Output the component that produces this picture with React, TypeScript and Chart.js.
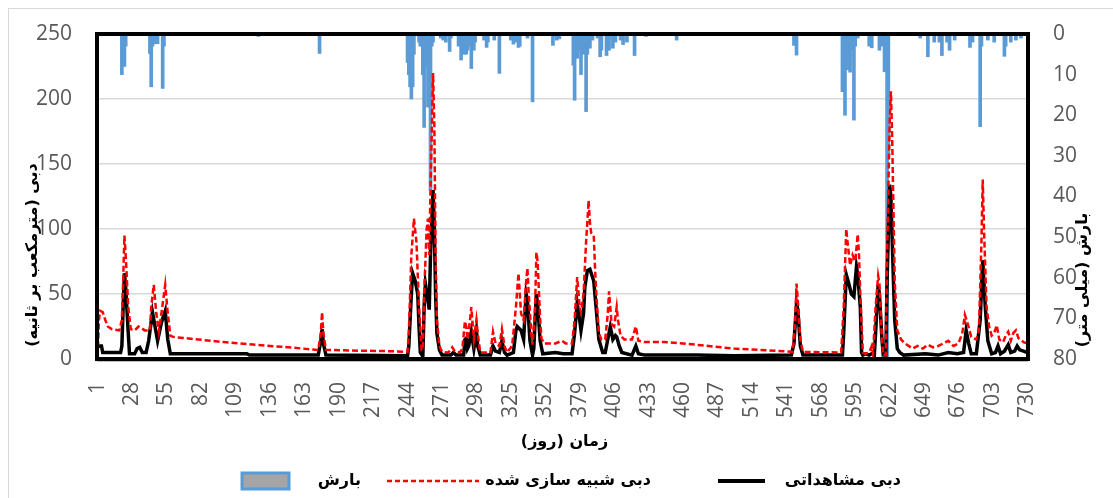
import React, { useEffect, useRef } from 'react';
import { Chart, registerables } from 'chart.js';
Chart.register(...registerables);

// ---- data ----
const xTickValues = [1, 28, 55, 82, 109, 136, 163, 190, 217, 244, 271, 298, 325, 352, 379, 406, 433, 460, 487, 514, 541, 568, 595, 622, 649, 676, 703, 730];

const obsDays = [1, 2, 4, 5, 19, 20, 21, 22, 23, 25, 26, 30, 32, 34, 36, 39, 41, 44, 46, 48, 51, 54, 56, 58, 118, 120, 174, 176, 177, 178, 180, 244,
  245, 247, 248, 250, 252, 253, 254, 256, 257, 258, 260, 261, 262, 264, 265, 266, 267, 269, 271, 278, 280, 282, 288, 289, 290, 291, 292, 294, 296, 298, 299, 301,
  309, 311, 313, 316, 318, 320, 322, 327, 329, 330, 333, 335, 337, 338, 340, 342, 343, 345, 346, 348, 350, 360, 366, 373, 375, 377, 379, 380, 382, 383, 385, 387, 390, 392, 394,
  397, 399, 401, 403, 405, 407, 408, 410, 412, 420, 423, 425, 430, 470, 500, 545, 547, 549, 550, 552, 554, 585, 586, 588, 590, 592, 594, 596, 597, 599, 600, 601, 603, 606,
  608, 610, 611, 613, 614, 616, 617, 619, 620, 622, 623, 625, 626, 628, 630, 633, 650, 660, 668, 675, 680, 682, 684, 686, 690, 693, 695, 697, 699, 702, 705, 707, 709, 712,
  715, 717, 720, 722, 724, 727, 730];
const obsValues = [9, 10, 10, 5, 5, 10, 40, 66, 55, 20, 4, 4, 8, 9, 5, 5, 14, 36, 25, 14, 28, 37, 15, 4, 4, 3, 3, 14, 23, 12, 3, 2.5,
  10, 50, 66, 60, 50, 25, 5, 2, 40, 58, 45, 38, 80, 130, 100, 50, 20, 7, 3, 3, 5, 3, 3, 15, 16, 8, 10, 21, 8, 22, 10, 3,
  3, 10, 6, 5, 14, 5, 3, 5, 22, 25, 22, 15, 50, 45, 14, 3, 8, 50, 42, 14, 4, 5, 4, 4, 20, 43, 30, 22, 35, 55, 68, 69, 60, 38, 15,
  5, 5, 15, 25, 15, 18, 17, 10, 5, 3, 10, 4, 3, 3, 2.5, 3, 12, 43, 38, 10, 3, 3, 20, 65, 58, 50, 48, 71, 65, 40, 5, 3, 4, 3,
  4, 3, 20, 57, 50, 15, 3, 3, 60, 134, 125, 60, 30, 8, 5, 3, 4, 3, 5, 4, 5, 22, 12, 4, 4, 30, 76, 40, 14, 4, 5, 10, 4, 6,
  11, 5, 6, 10, 7, 6, 5];

const simDays = [1, 2, 3, 5, 7, 9, 12, 18, 20, 21, 22, 23, 25, 27, 30, 33, 35, 38, 42, 43, 45, 47, 49, 51, 54, 56, 58, 60, 80, 100, 125, 150, 174, 176, 177, 178, 180, 200, 230, 244,
  245, 247, 249, 251, 253, 255, 256, 257, 259, 260, 261, 262, 264, 265, 266, 267, 269, 271, 276, 279, 281, 285, 287, 289, 290, 291, 293, 294, 296, 298, 299, 301,
  309, 311, 313, 316, 318, 320, 322, 326, 329, 331, 333, 335, 337, 338, 339, 341, 342, 344, 345, 346, 348, 349, 351, 360, 365, 368, 373, 375, 377, 379, 380, 382, 384, 386, 387, 388, 390, 391, 392, 394, 396,
  399, 401, 402, 404, 406, 408, 409, 411, 414, 420, 423, 425, 430, 445, 460, 480, 500, 520, 546, 548, 549, 550, 552, 554, 584, 586, 588, 589, 591, 593, 595, 597, 598, 599, 601, 603, 606,
  608, 609, 611, 613, 614, 616, 617, 619, 620, 622, 623, 624, 626, 628, 631, 634, 640, 644, 648, 652, 656, 660, 664, 668, 672, 676, 679, 681, 683, 686, 690, 692, 694, 695, 696, 698,
  700, 702, 704, 706, 708, 711, 713, 715, 717, 719, 721, 723, 725, 727, 730];
const simValues = [2, 30, 37, 36, 30, 25, 23, 22, 30, 60, 95, 80, 40, 23, 22, 25, 24, 22, 22, 40, 57, 35, 21, 35, 57, 35, 18, 17, 15, 13, 11, 9, 7, 20, 36, 20, 7, 6.5, 6, 5.5,
  20, 80, 108, 90, 40, 7, 7, 50, 100, 108, 80, 130, 220, 180, 80, 30, 10, 5.5, 5, 9, 6, 5, 8, 29, 25, 15, 30, 40, 15, 30, 20, 5,
  5, 21, 12, 10, 23, 10, 5, 10, 40, 66, 35, 30, 60, 70, 50, 20, 11, 40, 82, 75, 30, 16, 12, 12, 14, 12, 12, 30, 63, 40, 36, 50, 90, 122, 105, 97, 95, 70, 50, 20, 15,
  15, 35, 52, 27, 25, 40, 30, 18, 15, 15, 25, 14, 13, 13, 12, 10, 8, 7, 5.5, 30, 58, 45, 15, 5.5, 5, 40, 100, 90, 72, 80, 75, 96, 80, 50, 5, 4, 5,
  10, 4, 40, 64, 58, 15, 3, 3, 80, 180, 206, 170, 60, 22, 15, 12, 8, 10, 8, 11, 9, 10, 12, 14, 10, 12, 20, 34, 28, 17, 15, 22, 90, 138, 100, 40,
  25, 18, 20, 26, 15, 13, 18, 21, 14, 20, 22, 16, 15, 13, 12];

const rainDays = [20, 21, 22, 23, 42, 43, 44, 46, 47, 48, 52, 53, 127, 175,
  244, 245, 246, 247, 248, 249, 253, 254, 256, 257, 258, 259, 260, 261, 262, 263, 264, 270, 272, 274, 277, 278,
  284, 285, 286, 287, 288, 290, 291, 293, 294, 296, 297, 304, 306, 307, 312, 316, 325, 327, 329, 331, 332, 338, 342,
  358, 361, 363, 374, 375, 377, 378, 380, 382, 384, 385, 387, 389, 393, 395, 396, 400, 402, 405, 407, 411, 413, 416, 422, 431, 455,
  547, 549, 585, 586, 587, 588, 589, 591, 592, 594, 595, 597, 606, 608, 614, 616, 618, 620, 621,
  646, 652, 657, 661, 663, 667, 669, 673, 685, 687, 693, 694, 699, 704, 712, 713, 717, 721, 725];
const rainValues = [10, 6, 8, 3, 4.8, 13, 3, 2.4, 2, 2.4, 13.4, 3, 0.6, 4.8,
  7, 10, 13, 16, 13, 5, 2, 3, 10, 23, 4, 8, 18, 10, 38.5, 3, 2, 1, 1.5, 2, 4.3, 1,
  3, 2, 6.4, 3, 5, 5, 4, 3, 8.5, 4, 2, 1.5, 3.3, 2, 1.5, 9.7, 1.5, 2.5, 2, 3.3, 3, 1, 16.7,
  2.8, 1.5, 1.2, 7.7, 16.3, 6, 4, 10, 5, 19.1, 5, 3.5, 1.5, 1, 5.6, 4, 5.3, 4, 3.5, 2, 1.5, 2.6, 2, 5.3, 0.6, 1.5,
  2.8, 5.2, 14.2, 12, 20, 7, 8.8, 9.4, 4, 21.2, 3, 1, 3, 3.4, 4, 3, 9.3, 80, 30,
  1, 5.6, 2, 2, 5.3, 2, 4, 1.5, 3.3, 2, 22.8, 3, 1.5, 2, 5.5, 3, 2, 1.5, 1];

const seriesNames = ['بارش', 'دبی شبیه سازی شده', 'دبی مشاهداتی'];
const xTitle = 'زمان (روز)';
const yTitle = 'دبی (مترمکعب بر ثانیه)';
const y2Title = 'بارش (میلی متر)';

const W = 1104;
const H = 489;
const PERSIAN_FONT = 'bold 16px "DejaVu Sans"';
const TICK_FONT = { family: '"Open Sans", "Liberation Sans", sans-serif', size: 21 };

export default function App() {
  const ref = useRef<HTMLCanvasElement>(null);
  useEffect(() => {
    document.documentElement.style.overflow = 'hidden';
    document.body.style.overflow = 'hidden';
    const canvas = ref.current!;

    const decor = {
      id: 'decor',
      afterDatasetsDraw(chart: any) {
        const { ctx, chartArea: a } = chart;
        ctx.save();
        ctx.strokeStyle = '#bfbfbf';
        ctx.lineWidth = 1;
        ctx.beginPath();
        ctx.moveTo(a.left, a.bottom + 2.5);
        ctx.lineTo(a.right, a.bottom + 2.5);
        ctx.stroke();
        ctx.strokeStyle = '#000';
        ctx.lineWidth = 4;
        ctx.strokeRect(a.left, a.top, a.right - a.left, a.bottom - a.top);
        ctx.restore();
      },
      afterDraw(chart: any) {
        const { ctx, chartArea: a } = chart;
        ctx.save();
        ctx.fillStyle = '#000';
        ctx.font = PERSIAN_FONT;
        ctx.direction = 'rtl';
        ctx.textBaseline = 'middle';
        ctx.textAlign = 'center';
        // axis titles
        ctx.save();
        ctx.translate(24, 246);
        ctx.rotate(-Math.PI / 2);
        ctx.fillText(yTitle, 0, 0);
        ctx.restore();
        ctx.save();
        ctx.translate(1074, 271);
        ctx.rotate(-Math.PI / 2);
        ctx.fillText(y2Title, 0, 0);
        ctx.restore();
        ctx.fillText(xTitle, (a.left + a.right) / 2 + 2, 433);
        // legend
        const ly = 472;
        ctx.textAlign = 'right';
        // precipitation key
        ctx.fillStyle = '#a5a5a5';
        ctx.fillRect(233, ly - 8, 47, 16);
        ctx.strokeStyle = '#5b9bd5';
        ctx.lineWidth = 3;
        ctx.strokeRect(233, ly - 8, 47, 16);
        ctx.fillStyle = '#000';
        ctx.fillText(seriesNames[0], 352, ly);
        // simulated key
        ctx.strokeStyle = '#ff0000';
        ctx.lineWidth = 2.5;
        ctx.setLineDash([5, 3]);
        ctx.beginPath();
        ctx.moveTo(378, ly);
        ctx.lineTo(470, ly);
        ctx.stroke();
        ctx.setLineDash([]);
        ctx.fillText(seriesNames[1], 642, ly);
        // observed key
        ctx.strokeStyle = '#000';
        ctx.lineWidth = 4;
        ctx.beginPath();
        ctx.moveTo(709, ly);
        ctx.lineTo(756, ly);
        ctx.stroke();
        ctx.fillText(seriesNames[2], 892, ly);
        ctx.restore();
      },
    };

    const chart = new Chart(canvas, {
      type: 'line',
      data: {
        datasets: [
          {
            type: 'line',
            label: seriesNames[1],
            data: simDays.map((d, i) => ({ x: d, y: simValues[i] })),
            borderColor: '#ff0000',
            borderWidth: 2.5,
            borderDash: [6, 3],
            pointRadius: 0,
            tension: 0,
            yAxisID: 'y',
            order: 0,
          },
          {
            type: 'line',
            label: seriesNames[2],
            data: obsDays.map((d, i) => ({ x: d, y: obsValues[i] })),
            borderColor: '#000000',
            borderWidth: 3.5,
            pointRadius: 0,
            tension: 0,
            yAxisID: 'y',
            order: 1,
          },
          {
            type: 'bar',
            label: seriesNames[0],
            data: rainDays.map((d, i) => ({ x: d, y: rainValues[i] })) as any,
            backgroundColor: '#5b9bd5',
            borderWidth: 0,
            barThickness: 3,
            yAxisID: 'y2',
            order: 2,
          } as any,
        ],
      },
      options: {
        responsive: false,
        animation: false,
        layout: { padding: { top: 25, left: 0, right: 0, bottom: 0 } },
        plugins: { legend: { display: false }, tooltip: { enabled: false } },
        scales: {
          x: {
            type: 'linear',
            offset: false,
            min: 0.5,
            max: 730.5,
            afterBuildTicks: (s: any) => {
              s.ticks = xTickValues.map((v) => ({ value: v }));
            },
            afterFit: (s: any) => {
              s.height = H - 350;
              s.paddingLeft = 0;
              s.paddingRight = 0;
              s.paddingTop = 0;
              s.paddingBottom = 0;
            },
            ticks: {
              autoSkip: false,
              maxRotation: 90,
              minRotation: 90,
              padding: 23,
              color: '#595959',
              font: TICK_FONT,
            },
            grid: { display: false, drawTicks: false, offset: false },
            border: { display: false },
          },
          y: {
            type: 'linear',
            position: 'left',
            min: 0,
            max: 250,
            afterFit: (s: any) => {
              s.width = 88;
              s.paddingTop = 0;
              s.paddingBottom = 0;
              s.paddingLeft = 0;
              s.paddingRight = 0;
            },
            ticks: { stepSize: 50, padding: 25, color: '#595959', font: TICK_FONT },
            grid: { color: '#d9d9d9', lineWidth: 1.5, drawTicks: false },
            border: { display: false },
          },
          y2: {
            type: 'linear',
            position: 'right',
            reverse: true,
            min: 0,
            max: 80,
            afterFit: (s: any) => {
              s.width = W - 1019;
              s.paddingTop = 0;
              s.paddingBottom = 0;
              s.paddingLeft = 0;
              s.paddingRight = 0;
            },
            ticks: { stepSize: 10, padding: 25, color: '#595959', font: TICK_FONT },
            grid: { drawOnChartArea: false, drawTicks: false },
            border: { display: false },
          },
        },
      },
      plugins: [decor],
    } as any);
    return () => chart.destroy();
  }, []);

  return (
    <div
      style={{
        position: 'fixed',
        left: 8,
        top: 8,
        width: 1105,
        height: 490,
        boxSizing: 'border-box',
        borderTop: '1px solid #d9d9d9',
        borderLeft: '1px solid #d9d9d9',
        overflow: 'hidden',
        background: '#fff',
      }}
    >
      <canvas ref={ref} width={W} height={H} style={{ display: 'block', width: W, height: H }} />
    </div>
  );
}
